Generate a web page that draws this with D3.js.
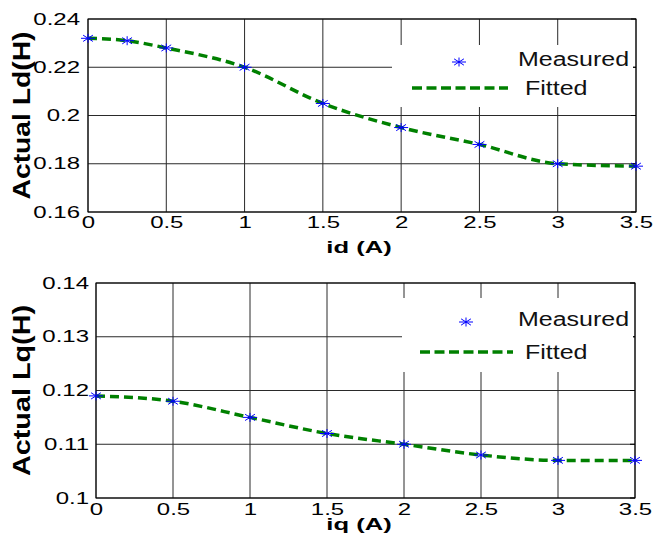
<!DOCTYPE html>
<html>
<head>
<meta charset="utf-8">
<script src="https://cdn.jsdelivr.net/npm/d3@7"></script>
<style>
  body { margin: 0; background: #fff; }
  svg { display: block; font-family: Arial, "Liberation Sans", sans-serif; }
</style>
</head>
<body>
<svg id="chart" width="655" height="548"></svg>
<script>
// id sweep (top) and measured Ld
const idValues = [0, 0.25, 0.5, 1, 1.5, 2, 2.5, 3, 3.5]
const ldMeasured = [0.232, 0.231, 0.228, 0.220, 0.205, 0.195, 0.188, 0.180, 0.179]

// iq sweep (bottom) and measured Lq
const iqValues = [0, 0.5, 1, 1.5, 2, 2.5, 3, 3.5]
const lqMeasured = [0.119, 0.118, 0.115, 0.112, 0.110, 0.108, 0.107, 0.107]

// tick labels
const xTicks = [0, 0.5, 1, 1.5, 2, 2.5, 3, 3.5]
const ldTicks = [0.16, 0.18, 0.2, 0.22, 0.24]
const lqTicks = [0.1, 0.11, 0.12, 0.13, 0.14]

const legendLabels = ['Measured', 'Fitted']

const svg = d3.select('#chart')
const green = '#008000'
const blue = '#0000ff'

// the picture is stretched sideways, so text gets a horizontal scale
function stretchText(sel, sx) {
  sel.each(function () {
    const t = d3.select(this)
    const x = +t.attr('x') || 0
    t.attr('x', x / sx).attr('transform', `scale(${sx},1)`)
  })
}

function asterisk(g, cx, cy) {
  const rx = 7, ry = 4.5
  g.append('path')
    .attr('d', `M${cx - rx},${cy}H${cx + rx}M${cx},${cy - ry}V${cy + ry}` +
      `M${cx - rx * 0.7},${cy - ry * 0.7}L${cx + rx * 0.7},${cy + ry * 0.7}` +
      `M${cx - rx * 0.7},${cy + ry * 0.7}L${cx + rx * 0.7},${cy - ry * 0.7}`)
    .attr('stroke', blue)
    .attr('stroke-width', 1)
    .attr('fill', 'none')
}

function panel(cfg) {
  const x = d3.scaleLinear().domain([0, 3.5]).range([cfg.left, cfg.right])
  const y = d3.scaleLinear().domain(cfg.yDomain).range([cfg.bottom, cfg.top])
  const g = svg.append('g')

  // grid
  g.selectAll('.vg').data(xTicks).enter().append('line')
    .attr('x1', d => x(d)).attr('x2', d => x(d))
    .attr('y1', cfg.top).attr('y2', cfg.bottom)
    .attr('stroke', '#2a2a2a').attr('stroke-width', 1)
  g.selectAll('.hg').data(cfg.yTicks).enter().append('line')
    .attr('x1', cfg.left).attr('x2', cfg.right)
    .attr('y1', d => y(d)).attr('y2', d => y(d))
    .attr('stroke', '#2a2a2a').attr('stroke-width', 1)

  // inner tick marks on the right edge
  g.selectAll('.rt').data(cfg.yTicks).enter().append('line')
    .attr('x1', cfg.right - 5).attr('x2', cfg.right)
    .attr('y1', d => y(d)).attr('y2', d => y(d))
    .attr('stroke', '#000')

  // legend box hides the grid beneath it
  const lg = cfg.legend
  g.append('rect')
    .attr('x', lg.x0).attr('y', lg.y0)
    .attr('width', lg.x1 - lg.x0).attr('height', lg.y1 - lg.y0)
    .attr('fill', '#fff')

  // frame
  g.append('rect')
    .attr('x', cfg.left).attr('y', cfg.top)
    .attr('width', cfg.right - cfg.left).attr('height', cfg.bottom - cfg.top)
    .attr('fill', 'none').attr('stroke', '#000').attr('stroke-width', 1)

  // axes (labels only, grid drawn above)
  const xAxis = g.append('g')
    .attr('transform', `translate(0,${cfg.bottom})`)
    .call(d3.axisBottom(x).tickValues(xTicks).tickSize(0).tickPadding(cfg.xPad)
      .tickFormat(d => String(d)))
  const yAxis = g.append('g')
    .attr('transform', `translate(${cfg.left},0)`)
    .call(d3.axisLeft(y).tickValues(cfg.yTicks).tickSize(0).tickPadding(cfg.yPad)
      .tickFormat(d => String(+d.toFixed(2))))
  ;[xAxis, yAxis].forEach(a => {
    a.attr('font-size', null).attr('font-family', null)
    a.select('.domain').remove()
    a.selectAll('text').attr('font-size', 16).attr('fill', '#000')
      .attr('font-family', 'Arial, "Liberation Sans", sans-serif')
  })
  stretchText(xAxis.selectAll('text'), 1.5)
  stretchText(yAxis.selectAll('text'), 1.5)

  // fitted curve
  const pts = cfg.xs.map((d, i) => [d, cfg.ys[i]])
  g.append('path')
    .datum(pts)
    .attr('d', d3.line().x(d => x(d[0])).y(d => y(d[1])).curve(d3.curveMonotoneX))
    .attr('fill', 'none').attr('stroke', green).attr('stroke-width', 3.5)
    .attr('stroke-dasharray', '9,5')

  // measured markers
  pts.forEach(d => asterisk(g, x(d[0]), y(d[1])))

  // legend entries
  asterisk(g, lg.markX, lg.markY)
  g.append('line')
    .attr('x1', lg.lineX0).attr('x2', lg.lineX1)
    .attr('y1', lg.lineY).attr('y2', lg.lineY)
    .attr('stroke', green).attr('stroke-width', 3.5).attr('stroke-dasharray', '10,4.5')
  const lt = g.append('g')
  lt.append('text').attr('x', 518).attr('y', lg.markY + 4).text(legendLabels[0])
  lt.append('text').attr('x', 525).attr('y', lg.lineY + 7).text(legendLabels[1])
  lt.selectAll('text').attr('font-size', 20).attr('fill', '#111')
  stretchText(lt.selectAll('text'), 1.25)

  // axis titles
  g.append('text')
    .attr('x', cfg.xLabelX / 1.6).attr('y', cfg.xLabelY)
    .attr('transform', 'scale(1.6,1)')
    .attr('text-anchor', 'middle')
    .attr('font-size', 16).attr('font-weight', 'bold')
    .text(cfg.xLabel)
  g.append('text')
    .attr('transform', `translate(22,${(cfg.top + cfg.bottom) / 2}) rotate(-90)`)
    .attr('text-anchor', 'middle').attr('dy', '0.36em')
    .attr('font-size', 23).attr('font-weight', 'bold')
    .attr('textLength', cfg.yLabelLen).attr('lengthAdjust', 'spacingAndGlyphs')
    .text(cfg.yLabel)
}

panel({
  left: 88, right: 636, top: 19, bottom: 212,
  yDomain: [0.16, 0.24], yTicks: ldTicks,
  xs: idValues, ys: ldMeasured,
  xPad: 5, yPad: 8,
  xLabel: 'id (A)', xLabelX: 359, xLabelY: 253,
  yLabel: 'Actual Ld(H)', yLabelLen: 168,
  legend: { x0: 392, x1: 633, y0: 45, y1: 107, markX: 459, markY: 62,
    lineX0: 412, lineX1: 508, lineY: 88 }
})

panel({
  left: 96, right: 635, top: 283, bottom: 498,
  yDomain: [0.1, 0.14], yTicks: lqTicks,
  xs: iqValues, ys: lqMeasured,
  xPad: 6, yPad: 7,
  xLabel: 'iq (A)', xLabelX: 359, xLabelY: 530,
  yLabel: 'Actual Lq(H)', yLabelLen: 171,
  legend: { x0: 402, x1: 633, y0: 298, y1: 372, markX: 466, markY: 322,
    lineX0: 420, lineX1: 513, lineY: 352 }
})
</script>
</body>
</html>
